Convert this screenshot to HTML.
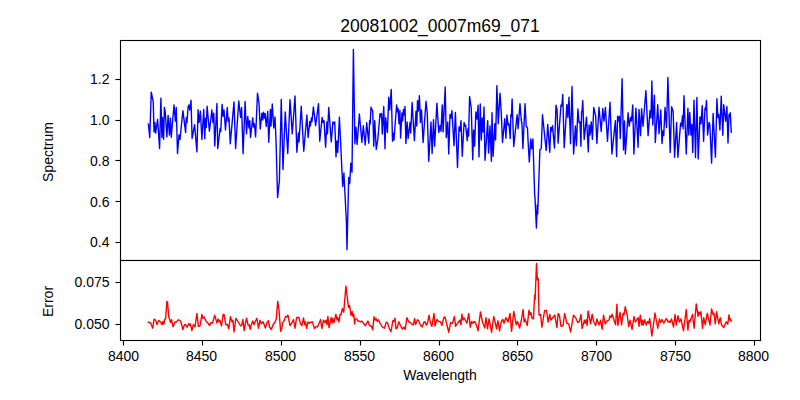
<!DOCTYPE html>
<html><head><meta charset="utf-8"><title>20081002_0007m69_071</title>
<style>html,body{margin:0;padding:0;background:#fff;font-family:"Liberation Sans",sans-serif}svg{display:block}</style>
</head><body>
<svg width="800" height="400" viewBox="0 0 800 400">
<rect width="800" height="400" fill="#fff"/>
<polyline fill="none" stroke="#0000ff" stroke-width="1.389" stroke-linejoin="round" stroke-linecap="square" points="148.40,124.00 149.75,137.50 151.25,92.25 153.25,101.90 154.00,131.90 154.90,122.50 155.60,133.10 157.60,119.40 159.60,148.50 160.90,98.10 161.90,137.50 162.50,117.50 163.60,139.40 164.40,107.50 165.25,112.00 166.90,136.90 168.10,115.40 169.40,135.00 170.40,118.10 171.25,137.25 174.00,105.00 175.40,121.25 176.25,107.50 177.50,153.50 179.00,135.00 180.00,139.40 182.90,110.60 185.60,132.50 186.25,117.75 187.00,122.50 188.10,106.90 189.00,105.00 189.75,110.00 191.00,100.25 192.10,138.50 194.60,124.70 196.90,151.90 198.10,109.75 199.10,122.50 200.40,111.25 201.90,139.40 203.75,109.40 204.75,138.75 205.60,118.10 206.25,127.50 207.10,106.25 209.40,131.25 211.90,110.00 212.90,122.50 213.75,113.10 214.75,146.00 216.90,103.50 217.75,148.50 220.10,128.50 220.75,131.50 222.10,104.40 223.10,116.25 224.00,110.00 225.50,130.00 227.25,107.50 228.10,121.25 229.00,118.10 230.25,143.75 234.00,101.90 235.60,148.50 238.75,101.00 240.60,117.50 241.60,107.50 243.10,153.75 245.10,101.50 246.50,133.75 247.75,116.50 249.00,128.00 249.80,120.60 250.50,137.50 252.75,117.75 253.50,127.00 254.40,123.75 255.60,136.90 257.50,93.10 259.00,103.10 260.25,129.00 261.90,113.10 262.75,120.00 263.50,112.25 264.40,118.00 265.10,113.50 266.25,126.50 267.75,111.25 268.75,142.25 270.40,109.40 271.00,126.00 272.25,104.00 273.75,128.00 275.00,117.00 276.00,140.00 277.60,197.50 279.40,180.60 281.25,99.40 283.00,169.40 285.25,111.90 287.75,153.50 290.00,99.75 292.25,133.75 295.00,96.00 296.90,152.25 298.40,133.00 299.00,142.00 301.25,106.25 303.75,151.25 306.90,115.00 308.10,137.50 309.80,121.50 310.40,126.00 311.40,118.00 312.00,121.50 313.40,106.90 315.60,125.60 318.50,103.75 319.75,141.25 322.10,117.50 323.10,122.50 324.00,120.60 325.60,147.25 326.90,122.00 327.50,133.75 328.75,107.50 331.25,141.90 332.90,121.90 333.80,124.00 334.75,121.90 336.00,156.90 336.90,141.00 337.75,152.50 339.40,117.25 342.70,186.50 343.90,173.00 346.40,222.00 347.00,249.50 348.70,177.50 349.75,183.50 350.80,163.25 352.00,172.25 353.40,49.50 354.90,143.75 356.00,127.30 357.10,144.40 359.40,114.00 361.90,142.50 363.30,125.80 365.20,145.00 366.70,122.70 368.75,143.10 369.60,120.60 370.20,124.00 371.00,107.25 372.75,111.25 373.75,146.25 374.75,120.60 376.25,149.40 377.75,140.00 380.00,113.75 380.75,116.50 381.50,113.50 382.30,134.00 383.75,106.50 385.00,148.75 385.70,117.75 387.40,132.50 388.75,97.25 389.75,110.00 391.25,89.40 392.50,141.25 393.40,133.00 394.00,140.00 396.60,105.00 397.40,112.00 398.10,108.50 399.00,123.75 399.90,110.50 400.60,138.00 401.90,113.00 402.60,121.00 403.50,109.40 404.20,115.00 405.00,106.50 405.90,143.50 407.10,122.00 408.10,138.50 410.00,122.50 410.70,133.00 412.10,102.50 414.40,140.60 416.00,111.25 416.80,126.00 417.50,100.60 418.40,111.00 419.40,95.60 420.40,122.50 421.50,110.00 423.10,142.50 426.00,101.25 427.25,113.00 428.75,161.25 431.00,121.90 432.10,153.50 433.50,119.75 434.60,146.25 436.90,103.10 438.75,132.50 440.00,125.60 441.00,131.25 442.25,105.00 443.10,131.90 445.20,87.00 446.25,137.50 447.75,122.00 448.75,154.00 450.00,114.40 451.00,118.00 451.90,110.60 454.00,145.60 455.40,112.50 457.50,167.50 459.00,126.90 460.00,131.00 461.00,120.60 462.25,156.25 464.10,122.50 464.80,126.00 465.60,125.00 467.25,140.60 467.90,129.00 468.60,136.00 469.60,96.50 471.25,108.00 472.75,159.75 473.60,130.00 474.60,146.25 475.90,111.90 477.00,119.00 478.10,105.25 479.00,156.90 480.25,104.00 481.30,140.00 482.25,118.00 483.10,132.00 484.00,106.90 485.00,160.25 487.70,120.60 488.60,153.10 490.00,126.00 491.40,161.25 492.00,112.75 493.10,156.25 494.75,123.75 495.60,140.00 496.90,85.60 498.25,123.75 500.00,93.10 501.30,113.00 502.50,142.50 504.75,118.75 505.90,138.10 506.90,115.00 508.10,125.00 509.00,123.75 510.25,138.50 510.90,114.40 511.40,117.00 512.10,99.00 513.75,146.50 517.10,114.75 518.10,128.75 520.00,103.75 521.25,120.00 522.00,124.00 522.90,148.50 525.00,103.75 526.25,126.25 527.50,128.00 528.00,140.00 529.30,162.00 530.75,139.00 531.75,148.75 532.90,139.00 534.70,196.00 535.00,197.50 536.40,228.00 537.30,205.00 537.70,214.00 539.90,149.50 541.25,148.75 542.50,114.75 546.20,150.50 547.75,124.40 549.75,152.25 550.75,127.50 551.60,131.00 552.50,125.60 554.50,148.10 556.00,105.25 557.10,110.00 558.10,143.10 561.00,105.00 561.90,106.00 562.75,94.40 564.20,147.75 566.90,104.40 567.90,117.50 569.00,97.10 570.50,143.75 572.00,86.50 573.60,154.00 575.40,126.00 576.40,145.60 577.90,109.00 579.00,122.50 580.00,121.90 580.90,146.25 581.60,111.25 582.00,112.00 582.75,100.60 584.20,139.40 586.50,117.25 588.30,151.90 589.10,125.00 590.00,135.00 591.25,121.90 592.40,139.40 593.75,107.50 595.60,115.60 596.90,143.50 599.00,107.25 601.20,131.50 602.75,108.50 604.00,121.25 605.40,107.50 607.50,141.25 610.00,102.25 611.90,154.00 615.40,120.60 616.60,156.50 617.60,116.25 618.50,121.00 619.40,116.25 620.30,138.50 622.10,78.75 623.50,150.00 624.50,121.00 625.40,154.00 628.10,112.75 629.20,126.25 630.60,117.50 631.50,121.00 632.75,105.00 633.90,154.00 635.90,108.10 638.10,147.25 639.00,109.40 640.50,135.60 641.60,108.75 643.00,126.25 645.90,90.60 648.10,135.60 650.00,110.60 650.90,118.00 651.90,81.00 652.75,125.00 654.40,95.25 655.30,142.50 657.75,104.75 659.00,133.75 660.80,110.00 662.00,143.50 662.90,131.00 663.75,135.60 665.00,107.50 666.50,127.50 667.90,77.50 670.20,152.50 671.60,106.70 673.10,111.25 674.60,157.25 676.60,122.50 677.90,157.25 680.60,123.10 681.50,126.00 682.50,115.60 683.10,128.75 684.00,95.80 686.25,154.00 687.90,108.20 688.80,135.00 689.75,112.50 691.00,135.00 691.90,124.40 692.75,152.50 694.00,100.10 695.50,157.50 696.90,97.40 698.20,159.00 700.00,116.90 701.00,123.75 702.25,105.60 703.60,141.25 705.00,108.10 705.70,110.00 706.50,100.40 707.60,135.00 709.00,122.50 709.80,124.50 711.60,163.10 713.10,113.50 715.40,157.25 716.90,98.75 717.90,117.50 718.75,114.40 719.90,130.00 721.25,96.10 722.80,135.25 723.75,104.60 725.60,121.25 726.90,106.40 728.00,143.10 729.00,114.40 729.60,117.00 730.25,112.75 731.30,132.20"/>
<polyline fill="none" stroke="#ff0000" stroke-width="1.389" stroke-linejoin="round" stroke-linecap="square" points="148.40,322.25 150.60,323.00 152.75,328.25 154.00,319.25 155.60,320.10 156.90,324.50 158.75,320.50 160.25,321.75 161.90,324.75 162.90,321.40 163.75,324.25 164.75,319.25 165.60,318.90 166.90,301.40 167.50,302.00 168.75,317.00 169.60,319.25 170.60,322.60 171.50,319.75 173.10,326.75 175.00,322.00 176.25,322.00 178.50,319.75 180.60,321.00 182.90,329.50 184.40,324.75 185.60,324.50 187.10,327.25 188.75,323.50 189.75,325.50 190.40,323.90 191.90,330.50 193.40,324.50 195.00,327.00 196.90,313.50 198.40,326.40 200.00,326.00 201.90,314.50 202.90,318.25 204.00,317.00 206.25,321.40 208.10,323.25 209.60,325.50 211.00,322.60 212.50,323.00 214.75,315.10 216.90,323.00 218.10,318.90 219.10,322.00 220.00,320.50 221.50,326.00 223.10,314.50 224.00,314.50 225.90,324.75 227.50,324.75 228.75,328.90 230.40,316.75 232.10,322.00 232.90,320.10 234.00,332.00 235.90,318.25 237.50,320.75 239.00,323.25 240.60,326.00 241.90,324.75 242.90,319.50 244.10,330.50 246.50,318.25 248.10,325.10 249.00,324.75 250.25,329.25 251.25,324.75 252.75,321.00 254.00,324.75 255.00,322.00 256.90,318.25 258.50,328.25 260.00,320.10 261.25,323.90 263.10,321.75 265.40,328.00 266.90,322.60 268.40,320.75 269.60,327.00 271.25,329.50 273.10,324.75 275.00,322.00 276.25,318.90 277.75,301.40 279.00,310.10 280.60,331.40 281.90,328.25 282.50,322.60 284.00,321.00 285.60,316.40 286.90,317.00 287.90,315.10 290.00,325.50 291.90,323.00 293.50,319.50 295.00,328.25 296.60,317.60 298.75,317.25 300.60,323.90 301.90,325.50 303.50,318.00 304.75,324.50 305.40,322.00 306.60,328.25 307.90,322.00 309.40,323.25 310.60,322.25 312.50,322.00 314.40,328.50 316.25,326.40 317.50,327.00 320.60,319.50 321.90,328.50 323.50,320.10 325.00,322.60 326.00,320.10 326.90,324.50 327.90,316.40 329.00,327.60 331.25,317.60 332.10,323.25 332.90,318.25 334.00,322.60 335.90,314.50 337.10,320.10 337.75,317.60 339.00,322.00 340.00,314.50 341.00,314.75 342.40,308.40 343.75,312.30 345.90,286.00 347.75,301.30 348.50,307.60 349.60,305.50 351.00,315.50 352.10,311.40 352.90,316.50 353.75,314.00 354.60,324.00 355.25,318.90 356.90,318.90 357.50,320.50 359.40,321.40 360.60,322.00 361.60,321.00 363.10,322.60 365.25,325.75 367.90,321.00 369.40,325.50 371.25,326.00 372.75,329.75 374.00,316.75 375.00,320.10 376.00,318.50 377.25,321.40 378.50,319.75 380.60,324.25 382.50,327.25 384.40,328.25 386.25,322.25 387.50,322.60 389.40,328.90 391.00,331.75 392.90,320.50 394.00,321.40 395.00,318.25 396.00,328.90 397.25,327.60 398.75,321.75 400.60,325.75 402.50,329.25 403.75,327.00 405.25,329.25 406.90,317.60 408.75,322.00 410.60,322.60 412.50,324.75 413.40,324.75 414.60,318.50 415.60,324.50 417.50,319.75 418.75,320.75 420.25,324.75 422.10,327.00 424.00,322.00 425.00,321.75 426.25,325.10 427.50,323.25 429.00,315.10 430.25,322.00 431.90,326.40 434.00,313.50 435.00,326.00 436.90,319.50 438.75,321.40 440.60,322.00 441.90,325.50 443.75,317.60 445.00,317.00 446.25,322.00 448.75,332.25 450.60,322.60 452.50,323.25 454.40,316.40 455.60,326.40 457.50,323.25 460.00,320.10 460.90,324.75 461.90,314.25 463.10,320.10 464.00,318.00 466.90,323.25 468.75,313.50 470.25,327.25 471.60,321.40 472.75,323.25 474.00,321.40 475.40,322.60 476.25,324.75 478.10,330.75 480.40,312.00 482.50,322.00 484.75,328.00 486.00,317.60 487.50,328.90 489.00,318.90 491.60,332.25 493.75,316.40 495.40,323.25 496.60,328.90 497.90,320.75 499.60,331.00 501.25,321.75 502.75,319.50 504.00,323.25 505.90,317.60 507.90,322.00 510.00,313.50 511.60,331.40 513.75,311.40 516.25,324.75 517.50,321.40 519.60,328.00 521.25,320.75 523.10,309.50 524.10,322.00 525.00,318.90 527.25,325.50 529.00,310.10 530.00,314.50 530.90,312.60 532.10,318.25 533.50,318.90 534.60,295.00 535.10,299.50 536.50,263.50 537.40,280.00 538.20,278.50 539.00,315.10 540.60,314.50 541.90,327.25 544.60,310.50 546.50,310.50 548.10,322.00 549.75,314.50 550.90,320.10 552.25,318.25 554.75,315.10 556.90,327.60 558.10,313.50 559.40,315.10 561.00,326.40 563.10,325.50 564.60,313.50 566.90,323.25 568.75,323.90 570.60,332.00 573.50,315.10 575.60,317.60 577.75,322.60 579.40,321.40 581.00,314.50 582.10,328.50 584.40,320.10 585.25,323.25 586.25,319.75 587.10,325.50 588.10,311.00 590.60,323.90 592.10,314.25 593.75,322.00 595.60,325.50 596.90,318.90 599.00,325.10 600.60,320.10 602.10,329.25 603.50,315.10 605.25,323.90 607.50,320.50 609.00,320.10 610.00,315.75 611.00,317.50 612.10,314.25 614.10,320.50 615.60,324.75 616.90,304.25 617.90,325.50 620.00,312.25 621.60,324.75 623.10,313.25 624.00,315.00 625.25,306.75 627.25,315.75 628.75,326.75 630.00,320.10 632.10,329.25 634.00,316.40 635.40,322.00 638.10,317.60 639.00,326.40 640.25,315.10 641.60,325.10 642.50,320.10 643.40,325.10 644.60,319.75 646.25,325.10 647.50,321.40 648.75,323.25 649.75,318.50 651.90,336.00 655.00,313.00 657.75,328.25 659.40,318.90 660.60,322.60 661.90,319.50 663.75,323.25 666.25,318.50 668.10,322.00 669.00,321.00 670.00,322.60 671.50,318.90 673.50,327.00 675.00,314.50 676.25,325.10 677.90,315.75 679.40,322.00 680.90,318.90 683.50,330.75 686.25,309.50 687.90,330.10 689.00,320.10 689.75,322.00 692.50,314.50 694.10,328.25 696.25,303.90 698.10,316.40 699.00,312.00 700.00,314.50 700.90,311.75 702.50,328.25 703.75,317.60 705.25,324.75 707.25,313.25 710.00,325.10 711.60,308.90 713.10,314.50 714.00,313.25 715.25,323.90 716.60,311.75 718.75,323.90 720.25,317.60 721.50,324.75 723.75,327.60 726.25,321.75 727.75,324.25 729.00,314.75 729.75,320.10 730.40,318.90 731.25,321.40"/>
<g fill="#000"><rect x="115.500" y="78.944" width="5.000" height="1.111"/><rect x="115.500" y="119.944" width="5.000" height="1.111"/><rect x="115.500" y="159.944" width="5.000" height="1.111"/><rect x="115.500" y="200.944" width="5.000" height="1.111"/><rect x="115.500" y="241.944" width="5.000" height="1.111"/><rect x="115.500" y="281.944" width="5.000" height="1.111"/><rect x="115.500" y="323.944" width="5.000" height="1.111"/><rect x="122.944" y="340.500" width="1.111" height="5.000"/><rect x="201.944" y="340.500" width="1.111" height="5.000"/><rect x="280.944" y="340.500" width="1.111" height="5.000"/><rect x="359.944" y="340.500" width="1.111" height="5.000"/><rect x="438.944" y="340.500" width="1.111" height="5.000"/><rect x="516.944" y="340.500" width="1.111" height="5.000"/><rect x="595.944" y="340.500" width="1.111" height="5.000"/><rect x="674.944" y="340.500" width="1.111" height="5.000"/><rect x="753.944" y="340.500" width="1.111" height="5.000"/><rect x="119.944" y="39.944" width="641.111" height="1.111"/><rect x="119.944" y="339.944" width="641.111" height="1.111"/><rect x="119.944" y="259.944" width="641.111" height="1.111"/><rect x="119.944" y="259.944" width="641.111" height="1.056"/><rect x="119.944" y="39.944" width="1.111" height="301.111"/><rect x="759.944" y="39.944" width="1.111" height="301.111"/></g>
<g fill="#000" font-family="'Liberation Sans', 'DejaVu Sans', sans-serif">
<text x="440" y="32" font-size="17.5" text-anchor="middle">20081002_0007m69_071</text>
<text x="53" y="152" font-size="14" text-anchor="middle" transform="rotate(-90 53 152)">Spectrum</text>
<text x="53" y="301.5" font-size="14" text-anchor="middle" transform="rotate(-90 53 301.5)">Error</text>
<text x="440" y="380" font-size="14" text-anchor="middle">Wavelength</text>
<g font-size="14" text-anchor="end">
<text x="109.5" y="84">1.2</text>
<text x="109.5" y="125">1.0</text>
<text x="109.5" y="166">0.8</text>
<text x="109.5" y="207">0.6</text>
<text x="109.5" y="247">0.4</text>
<text x="109.5" y="287">0.075</text>
<text x="109.5" y="329">0.050</text>
</g>
<g font-size="14" text-anchor="middle">
<text x="123.5" y="361">8400</text>
<text x="201.5" y="361">8450</text>
<text x="280.5" y="361">8500</text>
<text x="359.5" y="361">8550</text>
<text x="438.5" y="361">8600</text>
<text x="517.5" y="361">8650</text>
<text x="596.5" y="361">8700</text>
<text x="675.5" y="361">8750</text>
<text x="753.5" y="361">8800</text>
</g>
</g></svg>
</body></html>
